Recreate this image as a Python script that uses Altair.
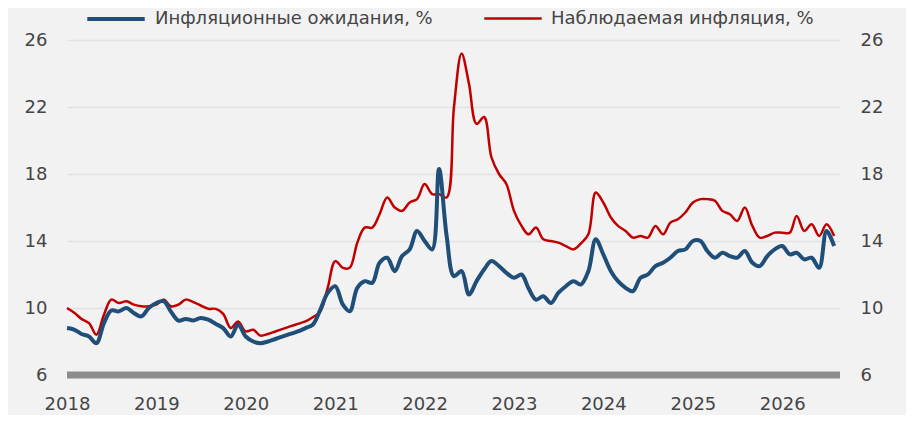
import altair as alt
import pandas as pd

# monthly values, Jan 2018 .. Aug 2026
expected = [
    8.8, 8.7, 8.45, 8.3, 7.9, 9.1, 9.85, 9.8, 10.0, 9.7, 9.5, 10.0,
    10.3, 10.4, 9.8, 9.25, 9.35, 9.25, 9.4, 9.3, 9.05, 8.8, 8.3, 9.0,
    8.3, 8.0, 7.9, 8.0, 8.15, 8.3, 8.45, 8.6, 8.8, 9.0, 9.9, 10.9,
    11.3, 10.2, 9.8, 11.2, 11.6, 11.5, 12.7, 13.0, 12.2, 13.1, 13.5, 14.6,
    14.0, 13.5, 18.3, 14.3, 11.9, 12.2, 10.8, 11.6, 12.3, 12.8, 12.5, 12.1,
    11.8, 12.0, 11.2, 10.5, 10.7, 10.3, 10.9, 11.3, 11.6, 11.4, 12.2, 14.1,
    13.2, 12.2, 11.6, 11.2, 11.0, 11.8, 12.0, 12.5, 12.7, 13.0, 13.4, 13.5,
    14.0, 14.0, 13.4, 13.0, 13.3, 13.1, 13.0, 13.4, 12.7, 12.5, 13.1, 13.5,
    13.7, 13.2, 13.3, 12.9, 13.0, 12.4, 14.6, 13.7,
]
observed = [
    10.0, 9.7, 9.35, 9.1, 8.4, 9.6, 10.5, 10.3, 10.4, 10.2, 10.1, 10.1,
    10.2, 10.5, 10.1, 10.2, 10.5, 10.35, 10.15, 9.95, 9.95, 9.65, 8.8, 9.2,
    8.6, 8.7, 8.35, 8.45, 8.6, 8.75, 8.9, 9.05, 9.2, 9.45, 9.8, 11.2,
    12.8, 12.4, 12.4, 13.9, 14.8, 14.8, 15.6, 16.6, 16.0, 15.8, 16.3, 16.5,
    17.4, 16.8, 16.8, 16.6, 22.0, 25.2, 23.4, 21.0, 21.4, 19.0, 18.0, 17.4,
    15.8, 14.9, 14.4, 14.8, 14.1, 14.0, 13.9, 13.7, 13.5, 13.85, 14.4, 16.9,
    16.3, 15.4, 14.9, 14.6, 14.2, 14.3, 14.2, 14.9, 14.4, 15.1, 15.3, 15.7,
    16.3, 16.5, 16.5, 16.4, 15.8, 15.6, 15.2, 16.0, 14.9, 14.2, 14.3, 14.5,
    14.5, 14.5, 15.5, 14.6, 15.0, 14.3, 15.0, 14.3,
]
years = [2018, 2019, 2020, 2021, 2022, 2023, 2024, 2025, 2026]
y_ticks = [6, 10, 14, 18, 22, 26]

name_exp = "Инфляционные ожидания, %"
name_obs = "Наблюдаемая инфляция, %"

dates = pd.date_range("2018-01-01", periods=len(expected), freq="MS").strftime("%Y-%m-%dT00:00:00")
# red first so the blue line is drawn on top
df = pd.concat([
    pd.DataFrame({"date": dates, "series": name_obs, "value": observed}),
    pd.DataFrame({"date": dates, "series": name_exp, "value": expected}),
])

font = "DejaVu Sans"
txt = "#454545"
y_scale = alt.Scale(domain=[6, 26], nice=False, zero=False)
x_scale = alt.Scale(domain=[alt.DateTime(year=2018, month=1, date=1),
                            alt.DateTime(year=2026, month=8, date=25)])

leg = alt.Legend(title=None, orient="none", legendX=18, legendY=-52,
                 direction="horizontal", symbolType="stroke", symbolSize=3300,
                 labelFont=font, labelFontSize=18, labelColor=txt,
                 labelOffset=8, columnPadding=46, labelLimit=400)

lines = alt.Chart(df).mark_line(interpolate="catmull-rom").encode(
    x=alt.X("date:T", scale=x_scale,
            axis=alt.Axis(values=[alt.DateTime(year=y, month=1, date=1) for y in years],
                          format="%Y", title=None, ticks=False, domain=False, grid=False,
                          labelFlush=False, labelOverlap=False,
                          labelPadding=20, labelFontSize=18, labelColor=txt, labelFont=font)),
    y=alt.Y("value:Q", scale=y_scale,
            axis=alt.Axis(orient="left", values=y_ticks, title=None, ticks=False, domain=False,
                          grid=True, gridColor="#e2e2e2", gridWidth=1.5,
                          labelPadding=20, labelFontSize=18, labelColor=txt, labelFont=font)),
    color=alt.Color("series:N", sort=[name_exp, name_obs],
                    scale=alt.Scale(domain=[name_exp, name_obs], range=["#1f4e79", "#c00000"]),
                    legend=leg),
    strokeWidth=alt.StrokeWidth("series:N", sort=[name_exp, name_obs],
                                scale=alt.Scale(domain=[name_exp, name_obs], range=[4, 2.5]),
                                legend=leg),
)

base_bar = alt.Chart(pd.DataFrame({"v": [6]})).mark_rule(color="#8c8c8c", strokeWidth=7).encode(
    y=alt.Y("v:Q", scale=y_scale,
            axis=alt.Axis(orient="right", values=y_ticks, title=None, ticks=False, domain=False,
                          grid=False, labelPadding=20, labelFontSize=18, labelColor=txt,
                          labelFont=font, labelAlign="left")),
)

chart = alt.layer(base_bar, lines).resolve_axis(y="independent").properties(
    width=773, height=335,
    autosize=alt.AutoSizeParams(type="none"),
    padding={"left": 59, "top": 32, "right": 66, "bottom": 40},
    background="#f2f2f2",
).configure_view(stroke=None)

chart.save("out.html", embed_options={"renderer": "svg", "actions": False})
